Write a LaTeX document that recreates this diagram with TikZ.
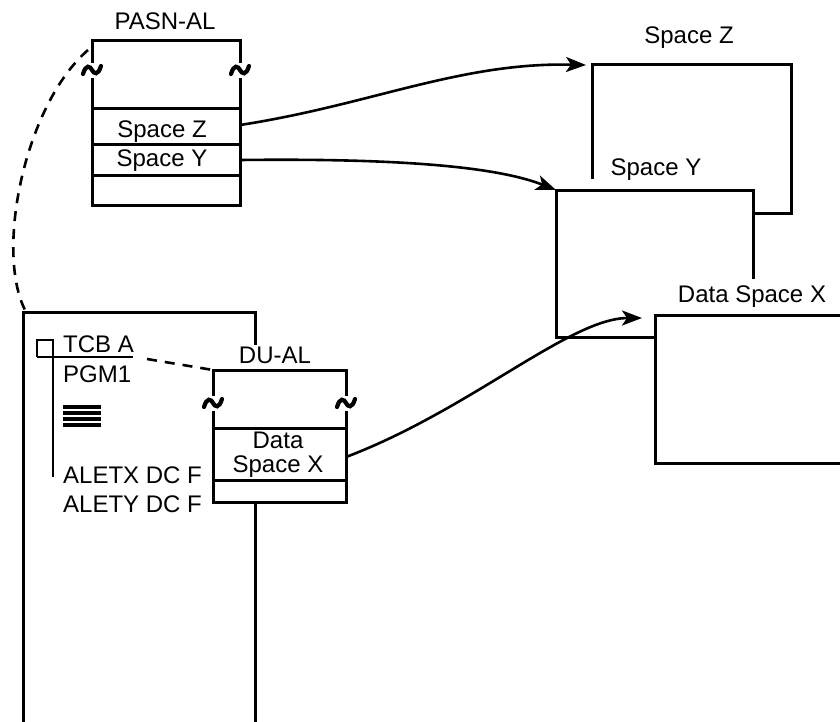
\documentclass[tikz,border=0pt]{standalone}
\usepackage{fontspec}
\setmainfont{Liberation Sans}
\usetikzlibrary{arrows.meta}
\begin{document}
\begin{tikzpicture}[x=1pt,y=-1pt,
  boxline/.style={line width=3pt,line cap=rect},
  conn/.style={line width=2.6pt,-{Stealth[length=20pt,width=15pt,inset=5pt]}},
  dashconn/.style={line width=2.6pt,dash pattern=on 10pt off 8pt},
  lbl/.style={inner sep=0pt,anchor=base,font=\fontsize{24}{28}\selectfont},
  lblw/.style={inner sep=0pt,anchor=base west,font=\fontsize{24}{28}\selectfont},
  tild/.pic={\draw[line width=4.2pt,line cap=round] (-9,4) .. controls (-6,-6) and (-2,-4) .. (0,0) .. controls (2,4) and (6,6) .. (9,-4);}
]
\useasboundingbox (0,0) rectangle (840,721);

% ---------- PASN-AL ----------
\node[lbl] (pasnlbl) at (165,29) {PASN-AL};
\draw[boxline] (92,61) -- (92,40) -- (240,40) -- (240,61);
\draw[boxline] (92,79) -- (92,205) -- (240,205) -- (240,79);
\pic at (92,70) {tild};
\pic at (240,70) {tild};
\draw[boxline] (92,108) -- (240,108);
\draw[boxline] (92,144) -- (240,144);
\draw[boxline] (92,175) -- (240,175);
\node[lbl] (spz) at (162,137) {Space Z};
\node[lbl] (spy) at (162,166) {Space Y};
\coordinate (zout) at (240,125);
\coordinate (yout) at (240,160);
\coordinate (pasntl) at (88,50);

% ---------- Space Z box ----------
\node[lbl] (spzlbl) at (689,43) {Space Z};
\draw[boxline] (592,177) -- (592,64) -- (791,64) -- (791,213) -- (753,213);
\coordinate (zin) at (586,65);

% ---------- Space Y box ----------
\node[lbl] (spylbl) at (656,175) {Space Y};
\draw[boxline] (753,277) -- (753,190) -- (556,190) -- (556,337) -- (655,337);
\coordinate (yin) at (556,190);

% ---------- Data Space X box ----------
\node[lbl] (dsxlbl) at (752,302) {Data Space X};
\draw[boxline] (845,315) -- (655,315) -- (655,463) -- (845,463);
\coordinate (xin) at (642,318);

% ---------- Big left box (TCB) ----------
\draw[boxline] (23,730) -- (23,312) -- (255,312) -- (255,343);
\draw[boxline] (255,502) -- (255,730);
\coordinate (bigtl) at (25,310);
\draw[line width=2.6pt] (37,357) -- (37,340) -- (53,340) -- (53,477);
\draw[line width=2.6pt] (37,357) -- (133,357);
\node[lblw] (tcba) at (63,352) {TCB A};
\node[lblw] (pgm) at (63,382) {PGM1};
\foreach \yy in {407,413,419,425}
  \draw[line width=3.6pt] (63,\yy) -- (101,\yy);
\node[lblw] (aletx) at (63,483) {ALETX DC F};
\node[lblw] (alety) at (63,512) {ALETY DC F};
\coordinate (tcbend) at (147,359);

% ---------- DU-AL ----------
\node[lbl] (dulbl) at (275,363) {DU-AL};
\draw[boxline] (213,394) -- (213,370) -- (346,370) -- (346,394);
\draw[boxline] (213,412) -- (213,502) -- (346,502) -- (346,412);
\pic at (213,403) {tild};
\pic at (346,403) {tild};
\draw[boxline] (213,428) -- (346,428);
\draw[boxline] (213,480) -- (346,480);
\node[lbl] (data) at (278,448) {Data};
\node[lbl] (spx) at (278,472) {Space X};
\coordinate (xout) at (346,457);
\coordinate (dutl) at (213,370);

% ---------- Connectors ----------
\draw[conn] (zout) .. controls (370,105) and (460,62) .. (zin);
\draw[conn] (yout) .. controls (410,158) and (500,168) .. (yin);
\draw[conn] (xout) .. controls (470,410) and (570,318) .. (xin);
\draw[dashconn] (tcbend) -- (dutl);
\draw[dashconn] (pasntl) .. controls (25,105) and (-5,250) .. (bigtl);
\end{tikzpicture}
\end{document}
